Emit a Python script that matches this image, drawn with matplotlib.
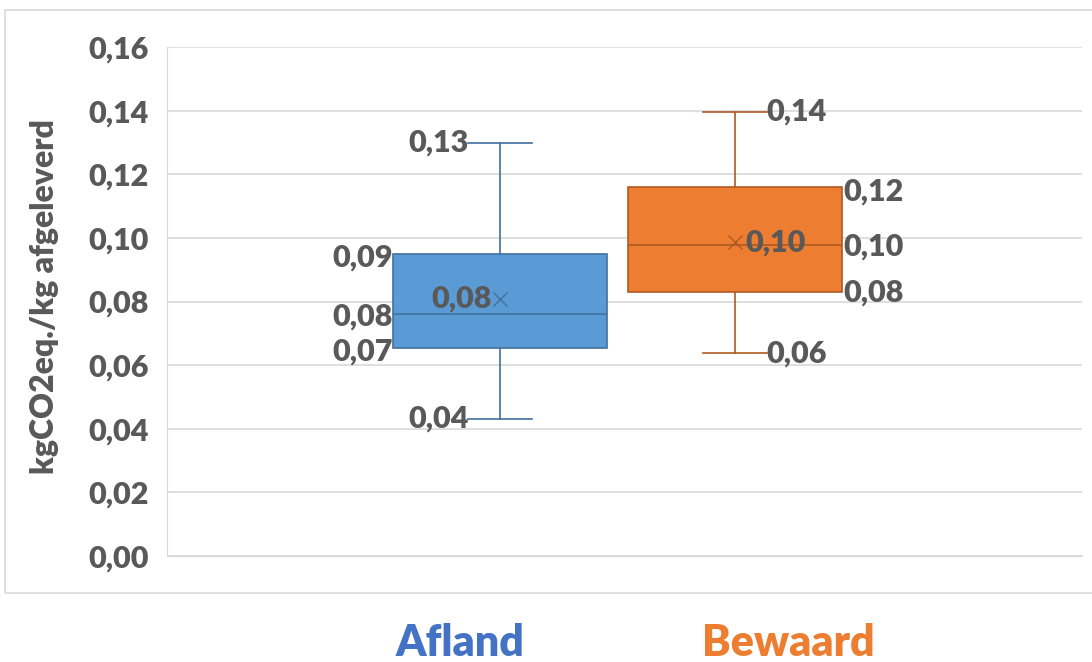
import numpy as np
import matplotlib.pyplot as plt
from matplotlib.patches import Rectangle

# data
groups = ['Afland', 'Bewaard']
whislo = [0.0431, 0.0638]
q1 = [0.0654, 0.0831]
med = [0.0761, 0.0978]
mean = [0.0808, 0.0988]
q3 = [0.0948, 0.1160]
whishi = [0.1299, 0.1397]

face = ['#5B9BD5', '#ED7D31']
edge = ['#41719C', '#AE5A21']
txtcol = ['#4472C4', '#ED7D31']
grey = '#595959'

def fmt(v):
    return ('%.2f' % v).replace('.', ',')

plt.rcParams['font.family'] = ['Lato', 'DejaVu Sans']

fig = plt.figure(figsize=(10.92, 6.62), dpi=100)
ax = fig.add_axes([167/1092, 1-556/662, 915/1092, 509/662])

# chart border
fig.patches.append(Rectangle((5/1092, 1-593/662), 1100/1092, 583/662,
                             transform=fig.transFigure, fill=False,
                             edgecolor='#D9D9D9', lw=1.2))

pos = [1, 2]
w = 0.91
cap = 0.27
for i in range(2):
    st = [dict(whislo=whislo[i], q1=q1[i], med=med[i], q3=q3[i],
               whishi=whishi[i], mean=mean[i], fliers=[])]
    ax.bxp(st, positions=[pos[i]], widths=w, patch_artist=True,
           showmeans=True, capwidths=cap,
           boxprops=dict(facecolor=face[i], edgecolor=edge[i], lw=1.2),
           medianprops=dict(color=edge[i], lw=1.2),
           whiskerprops=dict(color=edge[i], lw=1.2),
           capprops=dict(color=edge[i], lw=1.2),
           meanprops=dict(marker='x', markeredgecolor=edge[i],
                          markersize=10, markeredgewidth=1.0), zorder=3)

lab = dict(fontsize=22, fontweight='heavy', color=grey, va='center')
# Afland labels on the left
x = pos[0]
ax.text(x - cap/2, whishi[0], fmt(whishi[0]), ha='right', **lab)
ax.text(x - cap/2, whislo[0], fmt(whislo[0]), ha='right', **lab)
ax.text(x - w/2, q3[0] - 0.001, fmt(q3[0]), ha='right', **lab)
ax.text(x - w/2, med[0] - 0.0008, fmt(med[0]), ha='right', **lab)
ax.text(x - w/2, q1[0] - 0.0012, fmt(q1[0]), ha='right', **lab)
ax.text(x - 0.035, mean[0], fmt(mean[0]), ha='right', zorder=4, **lab)
# Bewaard labels on the right
x = pos[1]
ax.text(x + cap/2, whishi[1], fmt(whishi[1]), ha='left', **lab)
ax.text(x + cap/2, whislo[1], fmt(whislo[1]), ha='left', **lab)
ax.text(x + w/2 + 0.005, q3[1] - 0.0015, fmt(q3[1]), ha='left', **lab)
ax.text(x + w/2 + 0.005, med[1] - 0.0005, fmt(med[1]), ha='left', **lab)
ax.text(x + w/2 + 0.005, q1[1] - 0.0002, fmt(q1[1]), ha='left', **lab)
ax.text(x + 0.045, mean[1] - 0.0003, fmt(mean[1]), ha='left', zorder=4, **lab)

ax.set_xlim(1 - 333/235, 2 + 347/235)
ax.set_ylim(0, 0.16)
ticks = np.arange(0, 0.161, 0.02)
ax.set_yticks(ticks)
ax.set_yticklabels([fmt(t) for t in ticks])
ax.set_xticks([])
ax.tick_params(axis='y', length=0, pad=13, labelsize=22, labelcolor=grey)
for t in ax.get_yticklabels():
    t.set_fontweight('heavy')
ax.grid(True, axis='y', color='#D9D9D9', lw=1.2, zorder=0)
ax.set_axisbelow(True)
for s in ['top', 'right']:
    ax.spines[s].set_visible(False)
ax.spines['left'].set_color('#D9D9D9')
ax.spines['bottom'].set_color('#D9D9D9')

fig.text(45/1092, 1-297/662, 'kgCO2eq./kg afgeleverd', rotation=90,
         ha='center', va='center', fontsize=23, fontweight='heavy', color=grey)

fig.text(460/1092, 1-643/662, groups[0], ha='center', va='center',
         fontsize=31, fontweight='heavy', color=txtcol[0])
fig.text(788/1092, 1-643/662, groups[1], ha='center', va='center',
         fontsize=31, fontweight='heavy', color=txtcol[1])

fig.savefig('out.png', dpi=100)
